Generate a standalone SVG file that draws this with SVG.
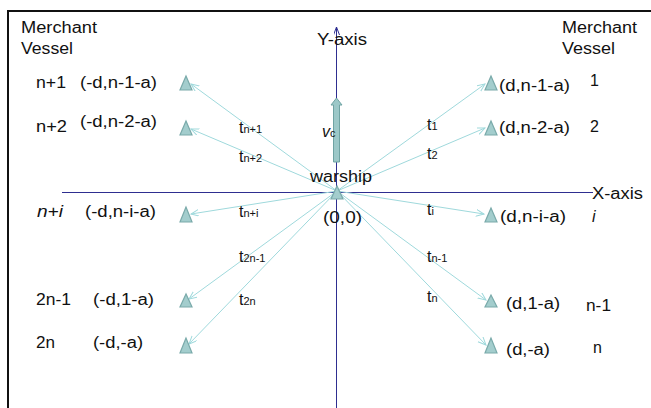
<svg xmlns="http://www.w3.org/2000/svg" width="651" height="408" viewBox="0 0 651 408">
<defs>
<style>
text{font-family:"Liberation Sans",Arial,sans-serif;font-size:16px;fill:#111}
.sub{font-size:11px}
.conn line{stroke:#9fd9dc;stroke-width:1;fill:none}
.ves{fill:#a3cdcd;stroke:#7aaaaa;stroke-width:1.2}
.axis{stroke:#2e2e90;stroke-width:1;fill:none}
</style>
<marker id="ah" markerUnits="userSpaceOnUse" markerWidth="10" markerHeight="8" refX="8" refY="3.5" orient="auto">
<path d="M0,0 L8,3.5 L0,7" fill="none" stroke="#9fd9dc" stroke-width="1"/>
</marker>
<marker id="axh" markerUnits="userSpaceOnUse" markerWidth="10" markerHeight="8" refX="8" refY="3" orient="auto">
<path d="M0,0 L8,3 L0,6" fill="none" stroke="#2e2e90" stroke-width="1"/>
</marker>
</defs>
<rect width="651" height="408" fill="#fff"/>
<path d="M8,408 V11 H651" fill="none" stroke="#111" stroke-width="2"/>

<g id="axes">
<line class="axis" x1="336.5" y1="408" x2="336.5" y2="27" marker-end="url(#axh)"/>
<line class="axis" x1="62" y1="192.5" x2="593" y2="192.5"/>
<text x="317" y="45" textLength="50" lengthAdjust="spacingAndGlyphs">Y-axis</text>
<text x="592" y="199" textLength="51" lengthAdjust="spacingAndGlyphs">X-axis</text>
</g>

<g id="headers">
<text x="21" y="33" textLength="76" lengthAdjust="spacingAndGlyphs">Merchant</text>
<text x="21" y="54" textLength="52" lengthAdjust="spacingAndGlyphs">Vessel</text>
<text x="562" y="33" textLength="75" lengthAdjust="spacingAndGlyphs">Merchant</text>
<text x="562" y="54" textLength="53" lengthAdjust="spacingAndGlyphs">Vessel</text>
</g>

<g class="conn" id="connectors">
<line x1="337" y1="191" x2="191" y2="84" marker-end="url(#ah)"/>
<line x1="337" y1="191" x2="191" y2="129" marker-end="url(#ah)"/>
<line x1="337" y1="191" x2="191" y2="214" marker-end="url(#ah)"/>
<line x1="337" y1="191" x2="189" y2="299" marker-end="url(#ah)"/>
<line x1="337" y1="191" x2="189" y2="344" marker-end="url(#ah)"/>
<line x1="337" y1="191" x2="485" y2="84" marker-end="url(#ah)"/>
<line x1="337" y1="191" x2="485" y2="128" marker-end="url(#ah)"/>
<line x1="337" y1="191" x2="484" y2="214" marker-end="url(#ah)"/>
<line x1="337" y1="191" x2="486" y2="300" marker-end="url(#ah)"/>
<line x1="337" y1="191" x2="486" y2="345" marker-end="url(#ah)"/>
</g>

<g id="labels-t">
<text x="239" y="133">t<tspan class="sub">n+1</tspan></text>
<text x="239" y="162">t<tspan class="sub">n+2</tspan></text>
<text x="239" y="217">t<tspan class="sub">n+i</tspan></text>
<text x="239" y="262">t<tspan class="sub">2n-1</tspan></text>
<text x="239" y="305">t<tspan class="sub">2n</tspan></text>
<text x="427" y="130">t<tspan class="sub">1</tspan></text>
<text x="427" y="159">t<tspan class="sub">2</tspan></text>
<text x="427" y="215">t<tspan class="sub">i</tspan></text>
<text x="427" y="262">t<tspan class="sub">n-1</tspan></text>
<text x="427" y="302">t<tspan class="sub">n</tspan></text>
</g>

<g id="warship">
<path d="M337,186 L331,199 L343,199 Z" class="ves"/>
<text x="310" y="182" textLength="62" lengthAdjust="spacingAndGlyphs">warship</text>
<text x="323" y="223" textLength="39" lengthAdjust="spacingAndGlyphs">(0,0)</text>
</g>

<g id="velocity">
<path d="M333.5,162 V105 H331 L336.5,98 L342,105 H339.5 V162 Z" fill="#9cc8c8" stroke="#6fa3a3" stroke-width="1"/>
<text x="322" y="137" font-style="italic">v<tspan class="sub" font-style="normal">c</tspan></text>
</g>

<g id="vessel-n1">
<path d="M186,76 L180,90 L192,90 Z" class="ves"/>
<text x="36" y="88" textLength="30" lengthAdjust="spacingAndGlyphs">n+1</text>
<text x="80" y="88" textLength="77" lengthAdjust="spacingAndGlyphs">(-d,n-1-a)</text>
</g>
<g id="vessel-n2">
<path d="M186,121 L180,135 L192,135 Z" class="ves"/>
<text x="36" y="132" textLength="31" lengthAdjust="spacingAndGlyphs">n+2</text>
<text x="80" y="127" textLength="77" lengthAdjust="spacingAndGlyphs">(-d,n-2-a)</text>
</g>
<g id="vessel-ni">
<path d="M186,207 L180,222 L192,222 Z" class="ves"/>
<text x="37" y="217" font-style="italic" textLength="26" lengthAdjust="spacingAndGlyphs">n+i</text>
<text x="85" y="217" textLength="71" lengthAdjust="spacingAndGlyphs">(-d,n-i-a)</text>
</g>
<g id="vessel-2n1">
<path d="M186,294 L180,307 L192,307 Z" class="ves"/>
<text x="36" y="305" textLength="35" lengthAdjust="spacingAndGlyphs">2n-1</text>
<text x="93" y="305" textLength="61" lengthAdjust="spacingAndGlyphs">(-d,1-a)</text>
</g>
<g id="vessel-2n">
<path d="M186,338 L180,353 L192,353 Z" class="ves"/>
<text x="36" y="348" textLength="19" lengthAdjust="spacingAndGlyphs">2n</text>
<text x="93" y="348" textLength="50" lengthAdjust="spacingAndGlyphs">(-d,-a)</text>
</g>

<g id="vessel-1">
<path d="M491,76 L485,90 L497,90 Z" class="ves"/>
<text x="499" y="91" textLength="71" lengthAdjust="spacingAndGlyphs">(d,n-1-a)</text>
<text x="590" y="86">1</text>
</g>
<g id="vessel-2">
<path d="M491,121 L485,135 L497,135 Z" class="ves"/>
<text x="499" y="133" textLength="71" lengthAdjust="spacingAndGlyphs">(d,n-2-a)</text>
<text x="590" y="132">2</text>
</g>
<g id="vessel-i">
<path d="M491,208 L485,222 L497,222 Z" class="ves"/>
<text x="500" y="222" textLength="66" lengthAdjust="spacingAndGlyphs">(d,n-i-a)</text>
<text x="592" y="222" font-style="italic">i</text>
</g>
<g id="vessel-n-1">
<path d="M491,295 L485,307 L497,307 Z" class="ves"/>
<text x="506" y="309" textLength="54" lengthAdjust="spacingAndGlyphs">(d,1-a)</text>
<text x="586" y="311" textLength="25" lengthAdjust="spacingAndGlyphs">n-1</text>
</g>
<g id="vessel-n">
<path d="M491,338 L485,353 L497,353 Z" class="ves"/>
<text x="506" y="355" textLength="44" lengthAdjust="spacingAndGlyphs">(d,-a)</text>
<text x="593" y="353">n</text>
</g>
</svg>
